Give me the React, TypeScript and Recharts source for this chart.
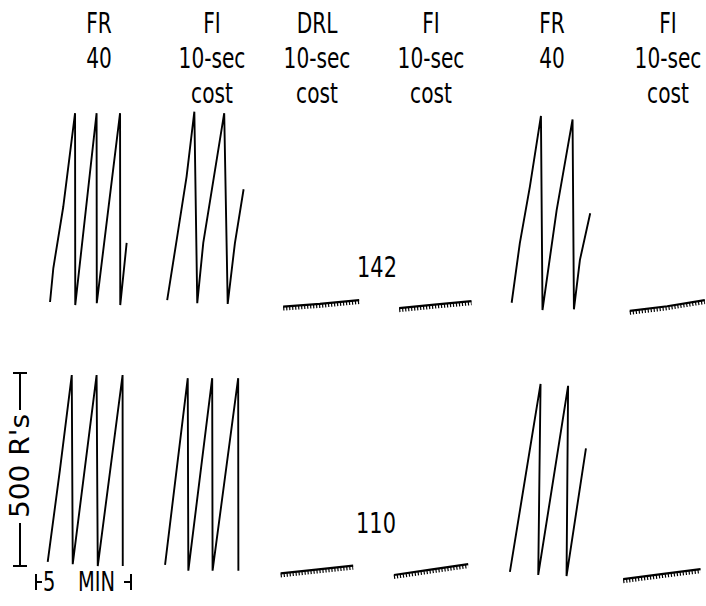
import React from "react"
import { LineChart, Line, XAxis, YAxis } from "recharts"

// cumulative records: [minutes, responses] pairs, pen resets after ~500 R's
const topFR40a: [number, number][] = [
  [2.58, 26], [2.75, 114], [3.26, 272], [3.87, 515], [3.88, 18],
  [4.98, 515], [4.99, 23], [6.19, 515], [6.2, 18], [6.53, 179],
]
const topFIa: [number, number][] = [
  [8.62, 31], [9.11, 187], [9.62, 351], [10.02, 519], [10.17, 23],
  [10.48, 179], [11.56, 515], [11.74, 21], [12.11, 178], [12.56, 318],
]
const topDRL: [number, number][] = [[14.6, 14], [16.49, 21], [18.52, 31]]
const topFIcost: [number, number][] = [[20.58, 10], [22.4, 19], [24.31, 28]]
const topFR40b: [number, number][] = [
  [26.38, 24], [26.8, 178], [27.32, 325], [27.89, 508], [27.97, 5],
  [28.7, 264], [29.52, 499], [29.59, 7], [29.9, 135], [30.43, 256],
]
const topFIb: [number, number][] = [[32.47, 3], [34.4, 15], [36.34, 31]]

const botFR40a: [number, number][] = [
  [2.46, 47], [3.09, 285], [3.7, 531], [3.75, 41], [4.98, 531],
  [5.04, 36], [6.32, 531], [6.33, 36],
]
const botFIa: [number, number][] = [
  [8.51, 39], [9.68, 523], [9.71, 24], [10.94, 523], [10.96, 24],
  [12.28, 523], [12.29, 24],
]
const botDRL: [number, number][] = [[14.47, 17], [16.3, 27], [18.21, 37]]
const botFIcost: [number, number][] = [[20.31, 13], [22.2, 27], [24.14, 41]]
const botFR40b: [number, number][] = [
  [26.29, 21], [27.87, 508], [27.75, 13], [29.29, 503], [29.21, 10], [30.21, 341],
]
const botFIb: [number, number][] = [[32.13, 2], [34.1, 15], [36.12, 28]]

const headers = [
  { x: 99, lines: ["FR", "40"] },
  { x: 212, lines: ["FI", "10-sec", "cost"] },
  { x: 317, lines: ["DRL", "10-sec", "cost"] },
  { x: 431, lines: ["FI", "10-sec", "cost"] },
  { x: 552, lines: ["FR", "40"] },
  { x: 668, lines: ["FI", "10-sec", "cost"] },
]
const rowCounts = ["142", "110"]

const X_DOMAIN: [number, number] = [0, 36.4]
const FONT = "'DejaVu Sans Condensed', 'DejaVu Sans', sans-serif"
const SQUEEZE = 0.8

const toRows = (pts: [number, number][]) => pts.map(([t, r]) => ({ t, r }))

// narrow text like the typewriter-ish condensed face of the original
function Label({ x, y, size, children, anchor = "middle" }: any) {
  return (
    <text
      x={0}
      y={0}
      fontSize={size}
      textAnchor={anchor}
      transform={`translate(${x} ${y}) scale(${SQUEEZE} 1)`}
    >
      {children}
    </text>
  )
}

function Row({
  records,
  flats,
  height,
  yDomain,
}: {
  records: [number, number][][]
  flats: [number, number][][]
  height: number
  yDomain: [number, number]
}) {
  return (
    <LineChart width={706} height={height} margin={{ top: 0, right: 0, bottom: 0, left: 0 }}>
      <XAxis type="number" dataKey="t" domain={X_DOMAIN} allowDataOverflow hide />
      <YAxis type="number" dataKey="r" domain={yDomain} allowDataOverflow hide />
      {records.map((pts, i) => (
        <Line
          key={"rec" + i}
          data={toRows(pts)}
          dataKey="r"
          type="linear"
          stroke="#000"
          strokeWidth={1.9}
          dot={false}
          activeDot={false}
          isAnimationActive={false}
        />
      ))}
      {flats.map((pts, i) => (
        <Line
          key={"flat" + i}
          data={toRows(pts)}
          dataKey="r"
          type="linear"
          stroke="#000"
          strokeWidth={2.2}
          dot={false}
          activeDot={false}
          isAnimationActive={false}
        />
      ))}
      {flats.map((pts, i) => (
        <Line
          key={"hatch" + i}
          className="hatch"
          data={toRows(pts)}
          dataKey="r"
          type="linear"
          stroke="#000"
          strokeWidth={4}
          strokeDasharray="1.2 1.8"
          dot={false}
          activeDot={false}
          isAnimationActive={false}
        />
      ))}
    </LineChart>
  )
}

export default function App() {
  return (
    <div style={{ position: "absolute", left: 0, top: 0, width: 706, height: 606, background: "#fff" }}>
      <style>{`.hatch .recharts-curve{transform:translateY(2px)}`}</style>
      <div style={{ position: "absolute", left: 0, top: 0 }}>
        <Row
          records={[topFR40a, topFIa, topFR40b]}
          flats={[topDRL, topFIcost, topFIb]}
          height={330}
          yDomain={[-46.6, 808.3]}
        />
      </div>
      <div style={{ position: "absolute", left: 0, top: 330 }}>
        <Row
          records={[botFR40a, botFIa, botFR40b]}
          flats={[botDRL, botFIcost, botFIb]}
          height={276}
          yDomain={[-67.4, 647.7]}
        />
      </div>
      <svg
        width={706}
        height={606}
        style={{ position: "absolute", left: 0, top: 0, pointerEvents: "none" }}
        fontFamily={FONT}
        fill="#000"
      >
        {headers.map((h) =>
          h.lines.map((s, j) => (
            <Label key={h.x + s + j} x={h.x} y={33 + j * 35} size={28}>
              {s}
            </Label>
          ))
        )}
        <Label x={377} y={277} size={29}>{rowCounts[0]}</Label>
        <Label x={376} y={533} size={29}>{rowCounts[1]}</Label>

        {/* response scale bar */}
        <g stroke="#000" strokeWidth={2}>
          <line x1={20} y1={373} x2={20} y2={410} />
          <line x1={20} y1={523} x2={20} y2={566} />
          <line x1={13} y1={373} x2={27} y2={373} />
          <line x1={13} y1={566} x2={27} y2={566} />
        </g>
        <text
          x={0}
          y={0}
          fontSize={27}
          textAnchor="middle"
          textLength={104}
          lengthAdjust="spacingAndGlyphs"
          transform="translate(29 466) rotate(-90)"
        >
          500 R's
        </text>

        {/* time scale bar */}
        <g stroke="#000" strokeWidth={2}>
          <line x1={36} y1={574} x2={36} y2={590} />
          <line x1={36} y1={582} x2={42} y2={582} />
          <line x1={131} y1={574} x2={131} y2={590} />
          <line x1={124} y1={582} x2={131} y2={582} />
        </g>
        <Label x={43} y={591} size={27} anchor="start">5</Label>
        <Label x={78} y={591} size={27} anchor="start">MIN</Label>
      </svg>
    </div>
  )
}
